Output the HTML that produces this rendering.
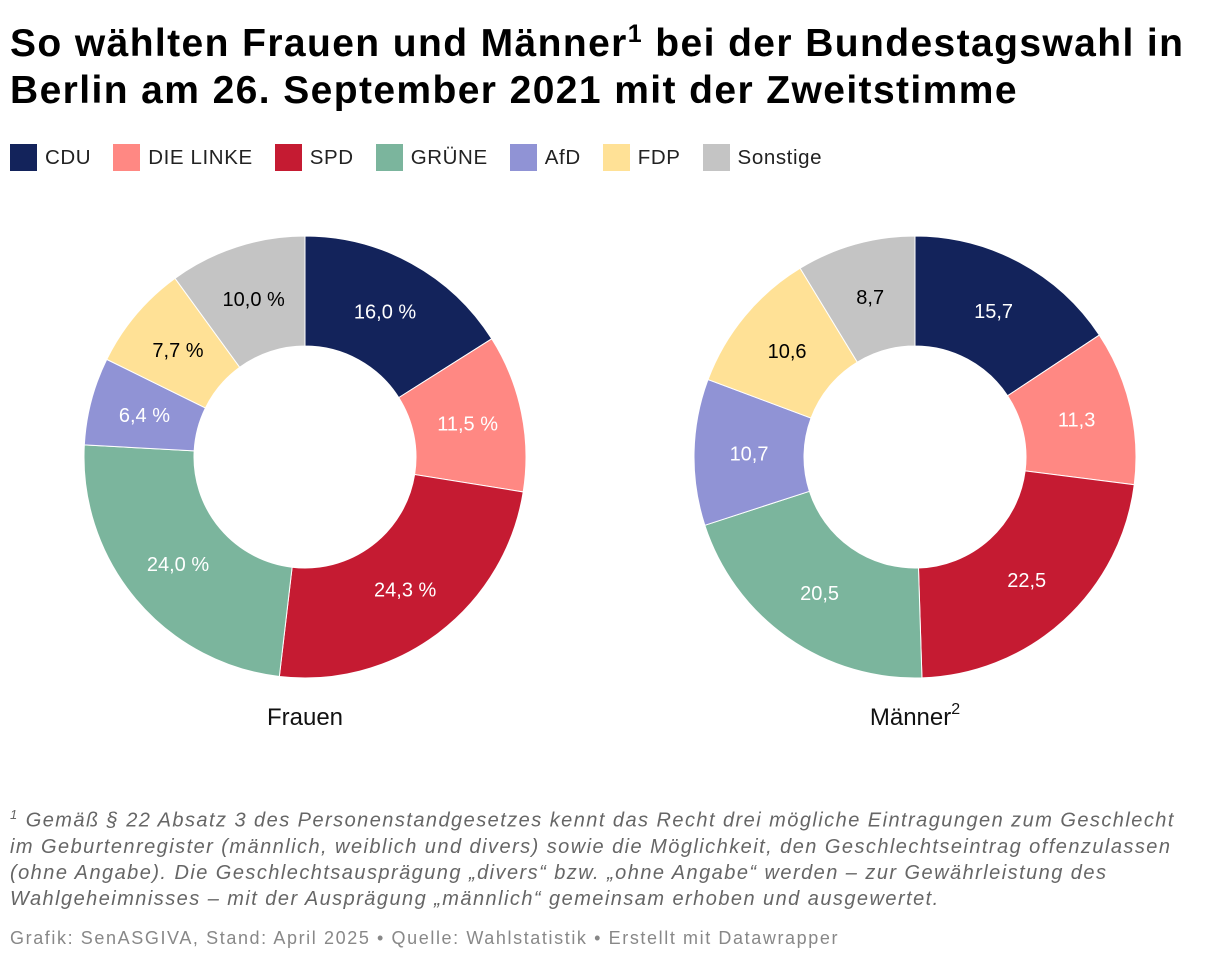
<!DOCTYPE html>
<html><head><meta charset="utf-8">
<style>
body{margin:0;width:1220px;height:964px;background:#fff;font-family:"Liberation Sans",sans-serif;position:relative;overflow:hidden}
h1{position:absolute;left:10px;top:20px;margin:0;font-size:39px;line-height:47px;font-weight:bold;color:#000;width:1210px;white-space:nowrap;letter-spacing:1.4px}
h1 sup{font-size:25px;line-height:0}
#legend{position:absolute;left:10px;top:144px;display:flex;font-size:20.5px;color:#222;letter-spacing:0.6px}
.li{display:flex;align-items:center;margin-right:22px}
.sw{width:27px;height:27px;margin-right:8px}
#foot{position:absolute;left:10px;top:802px;width:1210px;font-size:20px;line-height:26px;font-style:italic;color:#666;white-space:nowrap;letter-spacing:1.45px}
#foot sup{font-size:13px}
#credit{position:absolute;left:10px;top:928px;font-size:18px;color:#888;letter-spacing:1.6px}
svg{position:absolute;left:0;top:0}
</style></head><body>
<h1>So wählten Frauen und Männer<sup>1</sup> bei der Bundestagswahl in<br>Berlin am 26. September 2021 mit der Zweitstimme</h1>
<div id="legend"></div>
<svg id="chart" width="1220" height="964"></svg>
<div id="foot"><sup>1</sup> Gemäß § 22 Absatz 3 des Personenstandgesetzes kennt das Recht drei mögliche Eintragungen zum Geschlecht<br>im Geburtenregister (männlich, weiblich und divers) sowie die Möglichkeit, den Geschlechtseintrag offenzulassen<br>(ohne Angabe). Die Geschlechtsausprägung „divers“ bzw. „ohne Angabe“ werden – zur Gewährleistung des<br>Wahlgeheimnisses – mit der Ausprägung „männlich“ gemeinsam erhoben und ausgewertet.</div>
<div id="credit">Grafik: SenASGIVA, Stand: April 2025 • Quelle: Wahlstatistik • Erstellt mit Datawrapper</div>
<script>
const parties=["CDU","DIE LINKE","SPD","GRÜNE","AfD","FDP","Sonstige"];
const colors=["#13235b","#ff8883","#c51b32","#7bb59d","#9093d5","#ffe196","#c4c4c4"];
const labelColors=["#fff","#fff","#fff","#fff","#fff","#000","#000"];
const women=[16.0,11.5,24.3,24.0,6.4,7.7,10.0];
const men=[15.7,11.3,22.5,20.5,10.7,10.6,8.7];
const leg=document.getElementById('legend');
parties.forEach((p,i)=>{
  const d=document.createElement('div');d.className='li';
  
  
  d.innerHTML='<div class="sw" style="background:'+colors[i]+'"></div>'+p;
  leg.appendChild(d);
});
const svg=document.getElementById('chart');const NS="http://www.w3.org/2000/svg";
function donut(vals,cx,cy,suffix,title,sup,name){
  const R=221,r=111,tot=vals.reduce((a,b)=>a+b,0);let a0=0;
  vals.forEach((v,i)=>{
    const a1=a0+v/tot*2*Math.PI;
    const P=(rad,a)=>[cx+rad*Math.sin(a),cy-rad*Math.cos(a)];
    const [x1,y1]=P(R,a0),[x2,y2]=P(R,a1),[x3,y3]=P(r,a1),[x4,y4]=P(r,a0);
    const lg=(a1-a0)>Math.PI?1:0;
    const path=document.createElementNS(NS,'path');
    path.setAttribute('d',`M${x1},${y1}A${R},${R} 0 ${lg} 1 ${x2},${y2}L${x3},${y3}A${r},${r} 0 ${lg} 0 ${x4},${y4}Z`);
    path.setAttribute('fill',colors[i]);path.setAttribute('stroke','#fff');path.setAttribute('stroke-width','1');
    
    
    svg.appendChild(path);
    const [lx,ly]=P((R+r)/2,(a0+a1)/2);
    const t=document.createElementNS(NS,'text');
    t.setAttribute('x',lx);t.setAttribute('y',ly+7);t.setAttribute('text-anchor','middle');
    t.setAttribute('font-size','20');t.setAttribute('fill',labelColors[i]);
    
    
    t.textContent=v.toFixed(1).replace('.',',')+suffix;
    svg.appendChild(t);
    a0=a1;
  });
  const t=document.createElementNS(NS,'text');
  t.setAttribute('x',cx);t.setAttribute('y',cy+268);t.setAttribute('text-anchor','middle');t.setAttribute('font-size','24');t.setAttribute('fill','#111');
  
  
  t.innerHTML=title+(sup?'<tspan font-size="16" dy="-11">'+sup+'</tspan>':'');
  svg.appendChild(t);
}
donut(women,305,457," %","Frauen","","women");
donut(men,915,457,"","Männer","2","men");
</script>
</body></html>
